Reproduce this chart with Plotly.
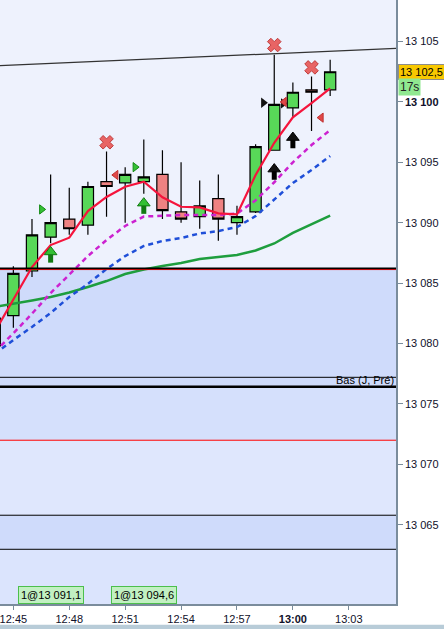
import plotly.graph_objects as go

DAY = "2024-01-15 "

# ---------------- data ----------------
candle_times = ["12:44", "12:45", "12:46", "12:47", "12:48", "12:49", "12:50", "12:51",
                "12:52", "12:53", "12:54", "12:55", "12:56", "12:57", "12:58", "12:59",
                "13:00", "13:01", "13:02"]
opens  = [13079.8, 13082.3, 13086.0, 13088.8, 13090.3, 13089.8, 13093.4, 13093.3, 13093.4,
          13094.0, 13090.9, 13090.5, 13092.0, 13090.0, 13090.9, 13096.0, 13099.5, 13101.0, 13101.0]
highs  = [13082.6, 13086.4, 13090.3, 13094.0, 13092.9, 13093.4, 13095.9, 13094.6, 13096.9,
          13096.0, 13095.0, 13093.5, 13094.0, 13091.4, 13096.5, 13103.9, 13101.6, 13102.1, 13103.5]
lows   = [13079.2, 13081.3, 13085.5, 13088.3, 13089.0, 13089.0, 13090.5, 13090.0, 13092.4,
          13090.3, 13090.0, 13089.5, 13088.5, 13089.0, 13090.8, 13096.0, 13098.7, 13097.6, 13100.5]
closes = [13082.1, 13085.8, 13089.0, 13090.0, 13089.5, 13093.0, 13093.0, 13094.0, 13093.8,
          13091.0, 13090.3, 13091.4, 13090.3, 13090.5, 13096.3, 13099.8, 13100.8, 13100.8, 13102.5]

ma_red = [13080.95, 13083.6, 13086.33, 13088.15, 13088.76, 13090.97, 13092.13, 13092.98, 13093.39,
          13092.10, 13091.32, 13091.27, 13090.78, 13090.69, 13093.95, 13096.62, 13098.72, 13099.9, 13101.13]
ma_magenta = [13079.3, 13080.84, 13082.47, 13084.18, 13085.7, 13087.24, 13088.57, 13089.73, 13090.51,
              13090.6, 13090.64, 13090.64, 13090.64, 13090.75, 13091.86, 13093.35, 13095.0, 13096.43, 13097.67]
ma_blue = [13079.13, 13080.29, 13081.37, 13082.52, 13083.85, 13084.93, 13086.17, 13087.24, 13088.07,
           13088.49, 13088.73, 13089.11, 13089.31, 13089.64, 13090.55, 13091.96, 13093.29, 13094.36, 13095.52]
ma_green = [13083.02, 13083.27, 13083.56, 13083.85, 13084.22, 13084.68, 13085.17, 13085.75, 13086.13,
            13086.42, 13086.66, 13087.0, 13087.16, 13087.33, 13087.70, 13088.28, 13089.15, 13089.85, 13090.58]

# signals
cross_times = ["12:50", "12:59", "13:01"]
cross_prices = [13096.66, 13104.71, 13102.86]
entry_tri_times = ["12:46:31", "12:51:32"]
entry_tri_prices = [13091.1, 13094.6]
red_tri_times = ["12:50:30", "12:59:32", "13:01:31"]
red_tri_prices = [13093.95, 13100.0, 13098.7]
black_tri_times = ["12:58:25", "12:59:29"]
black_tri_prices = [13099.93, 13099.88]
green_arrow_times = ["12:47", "12:52"]
green_arrow_prices = [13087.38, 13091.42]
black_arrow_times = ["12:59", "13:00"]
black_arrow_prices = [13094.24, 13096.85]

fill_times = ["12:47", "12:52"]
fill_labels = ["1@13 091,1", "1@13 094,6"]

# levels
trend_times = ["12:44:17", "13:05:32"]
trend_prices = [13103.0, 13104.44]
level_top = 13086.19
level_bas_thin = 13077.20
level_bas = 13076.42
level_red = 13071.99
level_a = 13065.78
level_b = 13062.96

last_price = 13102.5
last_label = "13 102,5"
timer_label = "17s"

y_ticks = [13065, 13070, 13075, 13080, 13085, 13090, 13095, 13100, 13105]
y_ticktext = ["13 065", "13 070", "13 075", "13 080", "13 085", "13 090", "13 095", "<b>13 100</b>", "13 105"]
x_ticks = ["12:45", "12:48", "12:51", "12:54", "12:57", "13:00", "13:03"]
x_ticktext = ["12:45", "12:48", "12:51", "12:54", "12:57", "<b>13:00</b>", "13:03"]

y_range = [13058.43, 13108.44]
x_range = ["12:44:17", "13:05:32"]

FONT = "Liberation Sans, Arial, sans-serif"


def T(lst):
    return [DAY + s for s in lst]


fig = go.Figure()

fig.add_trace(go.Candlestick(
    x=T(candle_times), open=opens, high=highs, low=lows, close=closes,
    increasing=dict(fillcolor="#58d858", line=dict(color="#000000", width=1.2)),
    decreasing=dict(fillcolor="#ee8282", line=dict(color="#000000", width=1.2)),
    whiskerwidth=0, hoverinfo="skip", showlegend=False))

# trend line
fig.add_trace(go.Scatter(x=T(trend_times), y=trend_prices, mode="lines",
                         line=dict(color="#333333", width=1.2), showlegend=False, hoverinfo="skip"))

fig.add_trace(go.Scatter(x=T(candle_times), y=ma_green, mode="lines",
                         line=dict(color="#1e9e3e", width=2.5), showlegend=False, hoverinfo="skip"))
fig.add_trace(go.Scatter(x=T(candle_times), y=ma_blue, mode="lines",
                         line=dict(color="#1f4fd8", width=2.5, dash="5px,4px"), showlegend=False, hoverinfo="skip"))
fig.add_trace(go.Scatter(x=T(candle_times), y=ma_magenta, mode="lines",
                         line=dict(color="#cc22d0", width=2.5, dash="5px,4px"), showlegend=False, hoverinfo="skip"))
fig.add_trace(go.Scatter(x=T(candle_times), y=ma_red, mode="lines",
                         line=dict(color="#f5143c", width=2.2), showlegend=False, hoverinfo="skip"))

# markers
fig.add_trace(go.Scatter(x=T(cross_times), y=cross_prices, mode="markers",
                         marker=dict(symbol="x", size=12, color="#e86464", line=dict(color="#c03c3c", width=1)),
                         showlegend=False, hoverinfo="skip"))
fig.add_trace(go.Scatter(x=T(entry_tri_times), y=entry_tri_prices, mode="markers",
                         marker=dict(symbol="triangle-right", size=8, color="#34c034", line=dict(color="#138a13", width=1)),
                         showlegend=False, hoverinfo="skip"))
fig.add_trace(go.Scatter(x=T(black_tri_times), y=black_tri_prices, mode="markers",
                         marker=dict(symbol="triangle-right", size=9, color="#111111"),
                         showlegend=False, hoverinfo="skip"))
fig.add_trace(go.Scatter(x=T(red_tri_times), y=red_tri_prices, mode="markers",
                         marker=dict(symbol="triangle-left", size=8, color="#e04848", line=dict(color="#c03030", width=1)),
                         showlegend=False, hoverinfo="skip"))

# block arrows: head + stem
for times, prices, fillc, linec in [(green_arrow_times, green_arrow_prices, "#34c034", "#137a13"),
                                    (black_arrow_times, black_arrow_prices, "#111111", "#000000")]:
    fig.add_trace(go.Scatter(x=T(times), y=[p - 0.28 for p in prices], mode="markers",
                             marker=dict(symbol="line-ns", size=7, line=dict(color=linec, width=5)),
                             showlegend=False, hoverinfo="skip"))
    fig.add_trace(go.Scatter(x=T(times), y=[p + 0.2 for p in prices], mode="markers",
                             marker=dict(symbol="triangle-up", size=11, color=fillc, line=dict(color=linec, width=1)),
                             showlegend=False, hoverinfo="skip"))

shapes = []
# background bands
bands = [(level_bas, level_top, "#cfdbfb"),
         (level_red, level_bas, "#d5e0fc"),
         (level_a, level_red, "#dfe7fd"),
         (level_b, level_a, "#cfdbfb"),
         (y_range[0], level_b, "#dbe4fd")]
for y0, y1, c in bands:
    shapes.append(dict(type="rect", xref="paper", x0=0, x1=1, yref="y", y0=y0, y1=y1,
                       fillcolor=c, line=dict(width=0), layer="below"))


def hline(y, color, width, layer="above"):
    shapes.append(dict(type="line", xref="paper", x0=0, x1=1, yref="y", y0=y, y1=y,
                       line=dict(color=color, width=width), layer=layer))


hline(level_top - 0.07, "#ff0000", 1)
hline(level_top + 0.03, "#000000", 1.6)
hline(level_bas_thin, "#000000", 1)
hline(level_bas, "#000000", 2.4)
hline(level_red, "#ff0000", 1)
hline(level_a, "#000000", 1)
hline(level_b, "#000000", 1)

# bottom strip of window
shapes.append(dict(type="rect", xref="paper", x0=-0.01, x1=1.13, yref="paper", y0=-0.045, y1=-0.0345,
                   fillcolor="#b8ccd8", line=dict(width=0), layer="above"))

annotations = []
annotations.append(dict(xref="paper", x=1, yref="y", y=level_bas, xanchor="right", yanchor="bottom",
                        text="Bas (J, Pré)", showarrow=False, font=dict(family=FONT, size=11, color="#000000"),
                        yshift=-1))
for t, lab in zip(fill_times, fill_labels):
    annotations.append(dict(x=DAY + t, xref="x", yref="paper", y=0, xanchor="center", yanchor="bottom",
                            text=lab, showarrow=False, bgcolor="#c2f0c2", bordercolor="#4cbf4c",
                            borderwidth=1, borderpad=2, font=dict(family=FONT, size=11, color="#000000")))
annotations.append(dict(xref="paper", x=1, yref="y", y=last_price, xanchor="left", yanchor="middle",
                        text=last_label, showarrow=False, bgcolor="#f8c800", bordercolor="#8c8c8c",
                        borderwidth=1, borderpad=1, xshift=2,
                        font=dict(family=FONT, size=11, color="#000000")))
annotations.append(dict(xref="paper", x=1, yref="y", y=last_price, xanchor="left", yanchor="middle",
                        text=timer_label, showarrow=False, bgcolor="#90e890", borderpad=1,
                        xshift=2, yshift=-15, font=dict(family=FONT, size=12, color="#222222")))

fig.update_layout(
    width=444, height=629,
    margin=dict(l=0, r=48, t=0, b=25),
    paper_bgcolor="#ffffff",
    plot_bgcolor="#eef2fd",
    boxgap=0.14,
    showlegend=False,
    shapes=shapes,
    annotations=annotations,
    xaxis=dict(type="date", range=T(x_range), rangeslider=dict(visible=False),
               showgrid=False, zeroline=False, showline=True, linecolor="#7a8c9c", linewidth=1.5,
               ticks="outside", ticklen=4, tickcolor="#7a8c9c",
               tickvals=T(x_ticks), ticktext=x_ticktext, ticklabeloverflow="allow",
               tickfont=dict(family=FONT, size=11, color="#10102a")),
    yaxis=dict(side="right", range=y_range, showgrid=False, zeroline=False,
               showline=True, linecolor="#7a8c9c", linewidth=1.5,
               ticks="outside", ticklen=5, tickcolor="#7a8c9c",
               tickvals=y_ticks, ticktext=y_ticktext, ticklabeloverflow="allow",
               tickfont=dict(family=FONT, size=11, color="#10102a")),
)

fig.write_html("out.html", config={"displayModeBar": False},
               post_script="document.body.style.margin='0px';document.body.style.overflow='hidden';")
